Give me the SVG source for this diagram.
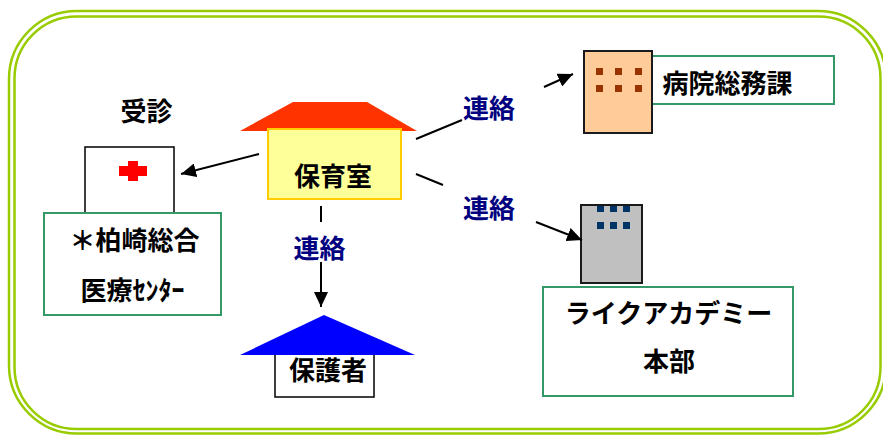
<svg xmlns="http://www.w3.org/2000/svg" width="883" height="435" viewBox="0 0 883 435">
<style>
text{font-family:"Noto Sans CJK JP","Noto Sans",sans-serif;font-weight:bold;font-size:26px;text-anchor:middle;fill:#000}
.lnk{fill:#000080}
.frame{fill:none;stroke:#99cc00;stroke-width:2.5}
.gbox{fill:#fff;stroke:#339966;stroke-width:2}
.conn{fill:none;stroke:#000;stroke-width:2}
.bld{stroke:#1a1a1a;stroke-width:2}
</style>
<defs>
<marker id="ah" markerUnits="userSpaceOnUse" markerWidth="16" markerHeight="14" refX="15" refY="7" orient="auto">
<path d="M0,0 L15,7 L0,14 Z" fill="#000"/>
</marker>
</defs>
<rect width="883" height="435" fill="#fff"/>
<g id="frame">
<rect class="frame" x="9" y="11" width="877" height="422.5" rx="68" ry="68"/>
<rect class="frame" x="14.5" y="16.5" width="866" height="412.5" rx="62" ry="62"/>
</g>
<g id="hospital">
<text x="146.5" y="121">受診</text>
<rect x="85" y="147" width="89" height="70" fill="#fff" stroke="#000" stroke-width="1.5"/>
<rect x="119" y="166" width="28" height="10" fill="#ff0000"/>
<rect x="128" y="161" width="10" height="20" fill="#ff0000"/>
<rect class="gbox" x="44" y="213" width="177" height="102"/>
<text x="134.5" y="250">＊柏崎総合</text>
<text x="132.5" y="300">医療ｾﾝﾀｰ</text>
</g>
<g id="hoikushitsu">
<polygon points="293,102 367,102 417,131 240,131" fill="#ff3300"/>
<rect x="268" y="129" width="133" height="70" fill="#ffff99" stroke="#ffcc00" stroke-width="2"/>
<text x="333" y="186">保育室</text>
</g>
<g id="hogosha">
<rect x="275" y="350" width="99" height="47" fill="#fff" stroke="#000" stroke-width="1.5"/>
<polygon points="324,315 415,355 240,355" fill="#0000ff"/>
<text x="328" y="380">保護者</text>
</g>
<g id="soumuka">
<rect class="gbox" x="640" y="56" width="194" height="48"/>
<rect class="bld" x="584" y="51" width="68" height="82" fill="#ffcc99"/>
<g fill="#993300">
<rect x="596" y="68" width="7" height="7"/><rect x="615" y="68" width="7" height="7"/><rect x="635" y="68" width="7" height="7"/>
<rect x="596" y="85" width="7" height="7"/><rect x="615" y="85" width="7" height="7"/><rect x="635" y="85" width="7" height="7"/>
</g>
<text x="727.5" y="93">病院総務課</text>
</g>
<g id="honbu">
<rect class="bld" x="581" y="205" width="61" height="78" fill="#c0c0c0"/>
<g fill="#003366">
<rect x="597" y="206" width="7" height="6"/><rect x="610" y="206" width="7" height="6"/><rect x="623" y="206" width="7" height="6"/>
<rect x="597" y="222" width="7" height="7"/><rect x="610" y="222" width="7" height="7"/><rect x="623" y="222" width="7" height="7"/>
</g>
<rect class="gbox" x="543" y="287" width="250" height="109"/>
<text x="668.5" y="323">ライクアカデミー</text>
<text x="669" y="371">本部</text>
</g>
<g id="connectors">
<path class="conn" d="M259,154 L181,174" marker-end="url(#ah)"/>
<path class="conn" d="M321,206 L321,222 M321,262 L321,307" marker-end="url(#ah)"/>
<path class="conn" d="M416,139 L462,120 M544,87 L573,74" marker-end="url(#ah)"/>
<path class="conn" d="M416,174 L443,185 M536,222 L582,240" marker-end="url(#ah)"/>
<text class="lnk" x="319.5" y="258">連絡</text>
<text class="lnk" x="489" y="118">連絡</text>
<text class="lnk" x="489" y="218">連絡</text>
</g>
</svg>
